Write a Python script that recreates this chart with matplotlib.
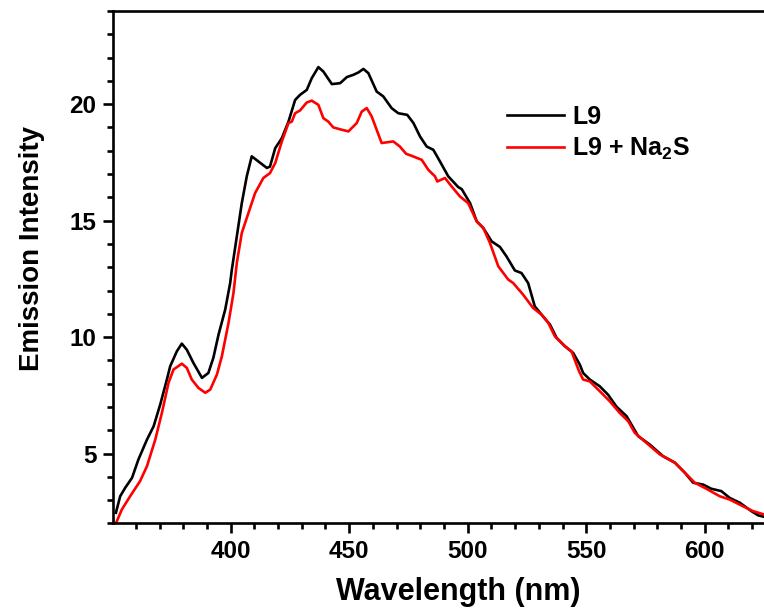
import matplotlib
matplotlib.use("Agg")
import matplotlib.pyplot as plt
from matplotlib.ticker import MultipleLocator

plt.rcParams["font.family"] = ["Liberation Sans", "DejaVu Sans"]
plt.rcParams["font.weight"] = "bold"
plt.rcParams["mathtext.fontset"] = "custom"
plt.rcParams["mathtext.bf"] = "Liberation Sans:bold"
plt.rcParams["mathtext.rm"] = "Liberation Sans:bold"
plt.rcParams["mathtext.default"] = "bf"

# emission spectra (wavelength in nm, intensity in a.u.)
wl_l9 = [351.6, 353.4, 355.5, 358.4, 361.1, 364.7, 367.5, 370.3, 373.1, 374.5,
         377.3, 379.4, 381.5, 384.3, 387.9, 390.6, 392.7, 394.9, 397.7, 399.8,
         400.5, 402.6, 404.7, 406.8, 408.9, 411.7, 415.3, 416.6, 418.8, 421.6,
         424.4, 427.2, 429.3, 432.1, 434.2, 437.0, 439.1, 442.7, 446.2, 449.0,
         451.8, 453.9, 456.0, 458.1, 461.6, 464.4, 467.9, 470.7, 474.5, 477.1,
         479.9, 482.7, 485.5, 488.3, 491.8, 496.0, 497.5, 501.0, 503.8, 506.6,
         510.1, 513.6, 516.4, 519.9, 522.7, 525.5, 528.3, 531.2, 534.7, 537.5,
         541.0, 544.5, 547.3, 548.7, 551.5, 555.7, 559.2, 562.8, 567.0, 571.9,
         576.8, 582.4, 587.4, 591.6, 595.1, 599.3, 602.8, 607.0, 610.5, 614.8,
         619.7, 622.5, 624.9]
int_l9 = [2.46, 3.17, 3.53, 3.96, 4.75, 5.60, 6.17, 7.11, 8.18, 8.75,
          9.39, 9.72, 9.46, 8.89, 8.25, 8.46, 9.11, 10.11, 11.18, 12.32,
          12.89, 14.32, 15.75, 16.90, 17.76, 17.54, 17.26, 17.32, 18.11, 18.54,
          19.25, 20.18, 20.40, 20.61, 21.11, 21.59, 21.40, 20.86, 20.90, 21.16,
          21.26, 21.36, 21.51, 21.33, 20.54, 20.33, 19.83, 19.61, 19.54, 19.19,
          18.61, 18.18, 18.04, 17.54, 16.90, 16.44, 16.35, 15.75, 14.97, 14.68,
          14.11, 13.87, 13.46, 12.86, 12.75, 12.32, 11.32, 10.96, 10.54, 9.97,
          9.61, 9.32, 8.82, 8.46, 8.18, 7.89, 7.53, 7.01, 6.61, 5.75,
          5.39, 4.89, 4.61, 4.18, 3.75, 3.67, 3.49, 3.39, 3.10, 2.89,
          2.53, 2.35, 2.29]

wl_na2s = [351.7, 354.1, 357.6, 361.8, 364.7, 368.2, 371.0, 373.8, 375.9, 379.4,
           381.5, 383.6, 386.4, 389.3, 391.4, 394.2, 396.3, 399.1, 401.2, 402.6,
           404.7, 407.5, 410.3, 413.8, 416.6, 418.8, 421.6, 424.4, 425.8, 427.2,
           429.3, 432.1, 434.2, 437.0, 439.1, 441.2, 443.3, 446.9, 449.7, 453.2,
           455.3, 457.4, 459.5, 461.6, 463.7, 468.6, 471.4, 474.0, 476.4, 480.6,
           483.4, 486.2, 487.2, 490.4, 493.2, 496.7, 500.2, 503.8, 506.6, 509.4,
           512.9, 517.1, 519.2, 523.4, 527.6, 531.2, 534.0, 536.8, 541.0, 543.8,
           547.0, 548.7, 551.5, 555.7, 559.9, 564.1, 567.7, 570.5, 575.4, 581.1,
           587.4, 591.6, 595.8, 600.7, 606.3, 610.5, 616.1, 620.4, 624.9]
int_na2s = [2.03, 2.60, 3.17, 3.82, 4.46, 5.60, 6.75, 8.04, 8.61, 8.86,
            8.68, 8.18, 7.82, 7.61, 7.75, 8.39, 9.18, 10.61, 11.90, 13.18,
            14.47, 15.33, 16.18, 16.83, 17.04, 17.47, 18.40, 19.19, 19.25, 19.61,
            19.73, 20.07, 20.15, 19.97, 19.40, 19.25, 19.00, 18.90, 18.83, 19.19,
            19.68, 19.83, 19.47, 18.90, 18.33, 18.40, 18.18, 17.87, 17.78, 17.61,
            17.18, 16.90, 16.68, 16.83, 16.47, 16.04, 15.75, 14.97, 14.68, 14.04,
            13.04, 12.47, 12.32, 11.82, 11.25, 10.96, 10.61, 10.03, 9.61, 9.39,
            8.53, 8.18, 8.10, 7.68, 7.25, 6.75, 6.39, 5.89, 5.46, 4.96,
            4.61, 4.18, 3.75, 3.49, 3.17, 3.03, 2.74, 2.53, 2.39]

fig = plt.figure(figsize=(7.64, 6.08), dpi=100)
ax = fig.add_axes([0.148, 0.139, 0.852, 0.843])

ax.plot(wl_l9, int_l9, color="black", lw=1.9, label="L9")
ax.plot(wl_na2s, int_na2s, color="#ff0000", lw=1.9, label="L9 + Na$_2$S")

ax.set_xlim(350.4, 625)
ax.set_ylim(2, 24)
ax.xaxis.set_major_locator(MultipleLocator(50))
ax.xaxis.set_minor_locator(MultipleLocator(10))
ax.yaxis.set_major_locator(MultipleLocator(5))
ax.yaxis.set_minor_locator(MultipleLocator(1))

ax.spines["right"].set_visible(False)
for s in ("left", "bottom", "top"):
    ax.spines[s].set_linewidth(1.9)
ax.tick_params(which="major", direction="out", length=7, width=1.9,
               labelsize=17.5, pad=5, top=False, right=False)
ax.tick_params(which="minor", direction="out", length=4.5, width=1.9,
               top=False, right=False)
for lab in ax.get_xticklabels() + ax.get_yticklabels():
    lab.set_fontweight("bold")

ax.set_xlabel("Wavelength (nm)", fontsize=22, fontweight="bold", va="center")
ax.xaxis.set_label_coords(0.530, -0.134)
ax.set_ylabel("Emission Intensity", fontsize=20, fontweight="bold", va="center")
ax.yaxis.set_label_coords(-0.125, 0.537)

leg = ax.legend(loc="upper left", bbox_to_anchor=(0.605, 0.817), frameon=False,
                fontsize=18, handlelength=2.3, handletextpad=0.3,
                labelspacing=0.3, borderaxespad=0, borderpad=0)
for t in leg.get_texts():
    t.set_fontweight("bold")

fig.savefig("out.png", dpi=100)
